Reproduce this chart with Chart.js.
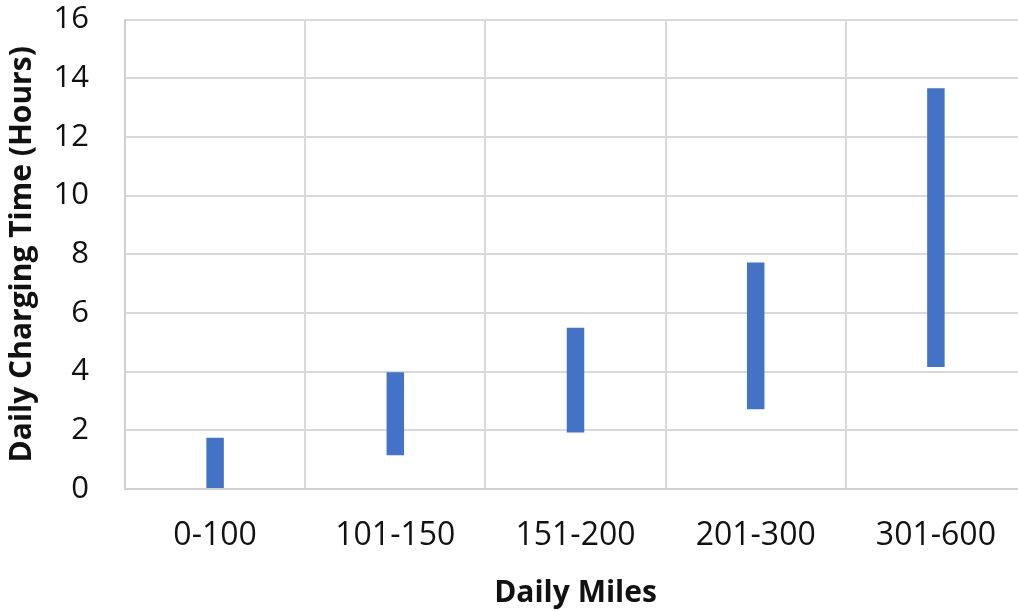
<!DOCTYPE html>
<html>
<head>
<meta charset="utf-8">
<script src="https://cdn.jsdelivr.net/npm/chart.js@4/dist/chart.umd.min.js"></script>
<style>
  html, body { margin: 0; padding: 0; background: #ffffff; overflow: hidden; }
  #wrap { width: 1018px; height: 611px; overflow: hidden; }
  canvas { display: block; }
</style>
</head>
<body>
<div id="wrap"><canvas id="chart" width="1030" height="611"></canvas></div>
<script>
// Daily mileage bands
const categories = ['0-100', '101-150', '151-200', '201-300', '301-600'];
// Charging time range per band (hours)
const minHours = [0, 1.15, 1.93, 2.72, 4.16];
const maxHours = [1.75, 3.98, 5.5, 7.72, 13.66];
// Value axis
const yMin = 0, yMax = 16, yStep = 2;

const ranges = categories.map((c, i) => [minHours[i], maxHours[i]]);

const FONT = "'Open Sans', 'DejaVu Sans', sans-serif";

new Chart(document.getElementById('chart'), {
  type: 'bar',
  data: {
    labels: categories,
    datasets: [{
      data: ranges,
      backgroundColor: '#4472C4',
      borderWidth: 0,
      categoryPercentage: 1,
      barPercentage: 0.097
    }]
  },
  options: {
    responsive: false,
    devicePixelRatio: 1,
    animation: false,
    layout: { padding: { top: 0, right: 4, bottom: 0, left: 0 } },
    plugins: { legend: { display: false }, tooltip: { enabled: false } },
    scales: {
      x: {
        grid: { color: '#d9d9d9', lineWidth: 2, drawTicks: false, offset: true },
        border: { color: '#d0d0d0', width: 2 },
        ticks: { color: '#111111', font: { family: FONT, size: 32 }, padding: 28, maxRotation: 0 },
        title: { display: true, text: 'Daily Miles', color: '#111111',
                 font: { family: FONT, size: 30, weight: 'bold' }, padding: { top: 4, bottom: 0 } },
        afterFit: (s) => { s.height = 122; }
      },
      y: {
        min: yMin, max: yMax,
        // invisible tick marks keep the labels clear of the axis line
        grid: { color: '#d9d9d9', lineWidth: 2, drawTicks: true, tickLength: 35, tickColor: 'rgba(0,0,0,0)' },
        border: { color: '#d0d0d0', width: 2 },
        ticks: { stepSize: yStep, color: '#111111', font: { family: FONT, size: 31 }, padding: 1 },
        title: { display: true, text: 'Daily Charging Time (Hours)', color: '#111111',
                 font: { family: FONT, size: 30, weight: 'bold' }, padding: { top: 4, bottom: 0 } },
        afterFit: (s) => { s.width = 125; }
      }
    }
  }
});
</script>
</body>
</html>
